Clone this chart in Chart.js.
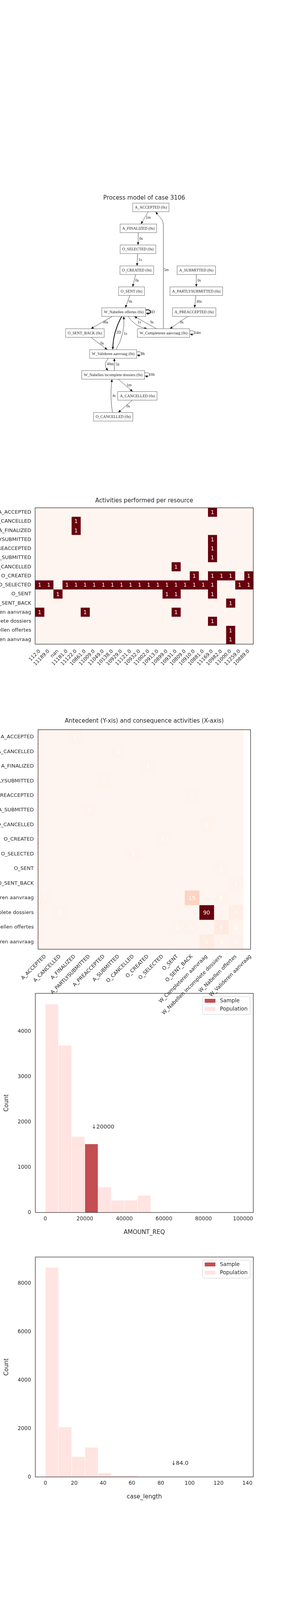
<!DOCTYPE html>
<html>
<head>
<meta charset="utf-8">
<script src="https://cdn.jsdelivr.net/npm/chart.js@4.4.1/dist/chart.umd.min.js"></script>
<style>
  html, body { margin: 0; padding: 0; background: #fff; }
  body { width: 720px; height: 4320px; position: relative; overflow: hidden; }
  canvas { position: absolute; left: 0; }
</style>
</head>
<body>
<canvas id="graph" width="720" height="620" style="top:480px"></canvas>
<canvas id="resHeat" width="720" height="480" style="top:1260px"></canvas>
<canvas id="amountHist" width="720" height="650" style="top:2530px"></canvas>
<canvas id="transHeat" width="720" height="860" style="top:1820px;z-index:2"></canvas>
<canvas id="lengthHist" width="720" height="655" style="top:3205px"></canvas>
<script>
/* ---------- data ---------- */

const caseId = 3106;

const activities = [
  'A_ACCEPTED', 'A_CANCELLED', 'A_FINALIZED', 'A_PARTLYSUBMITTED', 'A_PREACCEPTED',
  'A_SUBMITTED', 'O_CANCELLED', 'O_CREATED', 'O_SELECTED', 'O_SENT', 'O_SENT_BACK',
  'W_Completeren aanvraag', 'W_Nabellen incomplete dossiers', 'W_Nabellen offertes',
  'W_Valideren aanvraag'
];

// process model: nodes with their durations, edges with transition times
const nodeNames = [
  'A_ACCEPTED', 'A_FINALIZED', 'O_SELECTED', 'O_CREATED', 'O_SENT', 'W_Nabellen offertes',
  'A_SUBMITTED', 'A_PARTLYSUBMITTED', 'A_PREACCEPTED', 'O_SENT_BACK', 'W_Completeren aanvraag',
  'W_Valideren aanvraag', 'W_Nabellen incomplete dossiers', 'A_CANCELLED', 'O_CANCELLED'
];
const nodeTimes = ['0s', '0s', '0s', '0s', '0s', '0s', '0s', '0s', '0s', '0s', '0s', '0s', '0s', '0s', '0s'];

const edgeFrom = [
  'A_ACCEPTED', 'A_FINALIZED', 'O_SELECTED', 'O_CREATED', 'O_SENT', 'W_Completeren aanvraag',
  'A_SUBMITTED', 'A_PARTLYSUBMITTED', 'A_PREACCEPTED', 'W_Nabellen offertes', 'W_Nabellen offertes',
  'W_Nabellen offertes', 'W_Valideren aanvraag', 'W_Nabellen offertes', 'W_Completeren aanvraag',
  'W_Completeren aanvraag', 'O_SENT_BACK', 'W_Valideren aanvraag', 'W_Valideren aanvraag',
  'W_Nabellen incomplete dossiers', 'W_Nabellen incomplete dossiers', 'W_Nabellen incomplete dossiers',
  'A_CANCELLED', 'O_CANCELLED'
];
const edgeTo = [
  'A_FINALIZED', 'O_SELECTED', 'O_CREATED', 'O_SENT', 'W_Nabellen offertes', 'A_ACCEPTED',
  'A_PARTLYSUBMITTED', 'A_PREACCEPTED', 'W_Completeren aanvraag', 'W_Nabellen offertes', 'O_SENT_BACK',
  'W_Valideren aanvraag', 'W_Nabellen offertes', 'W_Completeren aanvraag', 'W_Nabellen offertes',
  'W_Completeren aanvraag', 'W_Valideren aanvraag', 'W_Valideren aanvraag', 'W_Nabellen incomplete dossiers',
  'W_Valideren aanvraag', 'W_Nabellen incomplete dossiers', 'A_CANCELLED',
  'O_CANCELLED', 'W_Nabellen incomplete dossiers'
];
const edgeTimes = [
  '1m', '0s', '1s', '0s', '0s', '5m', '0s', '46s', '0s', '3D', '46s', '2D', '1s', '1s', '9s',
  '34m', '0s', '9h', '40m', '5h', '16h', '1m', '0s', '4s'
];

// activities performed per resource (rows = activities, cols = resources)
const resources = [
  '112.0', '11189.0', 'nan', '11181.0', '11122.0', '10861.0', '11009.0', '11049.0',
  '10138.0', '10929.0', '11121.0', '10932.0', '11002.0', '10913.0', '10899.0', '10931.0',
  '10809.0', '10910.0', '10881.0', '11169.0', '10982.0', '11000.0', '11259.0', '10889.0'
];
const resourceCounts = [
  [0,0,0,0,0,0,0,0,0,0,0,0,0,0,0,0,0,0,0,1,0,0,0,0],
  [0,0,0,0,1,0,0,0,0,0,0,0,0,0,0,0,0,0,0,0,0,0,0,0],
  [0,0,0,0,1,0,0,0,0,0,0,0,0,0,0,0,0,0,0,0,0,0,0,0],
  [0,0,0,0,0,0,0,0,0,0,0,0,0,0,0,0,0,0,0,1,0,0,0,0],
  [0,0,0,0,0,0,0,0,0,0,0,0,0,0,0,0,0,0,0,1,0,0,0,0],
  [0,0,0,0,0,0,0,0,0,0,0,0,0,0,0,0,0,0,0,1,0,0,0,0],
  [0,0,0,0,0,0,0,0,0,0,0,0,0,0,0,1,0,0,0,0,0,0,0,0],
  [0,0,0,0,0,0,0,0,0,0,0,0,0,0,0,0,0,1,0,1,1,1,0,1],
  [1,1,0,1,1,1,1,1,1,1,1,1,1,1,1,1,1,1,1,1,0,0,1,1],
  [0,0,1,0,0,0,0,0,0,0,0,0,0,0,1,1,0,0,0,1,0,0,0,0],
  [0,0,0,0,0,0,0,0,0,0,0,0,0,0,0,0,0,0,0,0,0,1,0,0],
  [1,0,0,0,0,1,0,0,0,0,0,0,0,0,0,1,0,0,0,0,0,0,0,0],
  [0,0,0,0,0,0,0,0,0,0,0,0,0,0,0,0,0,0,0,1,0,0,0,0],
  [0,0,0,0,0,0,0,0,0,0,0,0,0,0,0,0,0,0,0,0,0,1,0,0],
  [0,0,0,0,0,0,0,0,0,0,0,0,0,0,0,0,0,0,0,0,0,1,0,0]
];

// antecedent (rows) -> consequence (cols) counts
const transitionCounts = [
  [0,0,1,0,0,0,0,0,0,0,0,0,0,0],
  [0,0,0,0,0,1,0,0,0,0,0,0,0,0],
  [0,0,0,0,0,0,0,1,0,0,0,0,0,0],
  [0,0,0,0,1,0,0,0,0,0,0,0,0,0],
  [0,0,0,0,0,0,0,0,0,0,1,0,0,0],
  [0,0,0,1,0,0,0,0,0,0,0,0,0,0],
  [0,0,0,0,0,0,0,0,0,0,0,1,0,0],
  [0,0,0,0,0,0,0,0,1,0,0,0,0,0],
  [0,0,0,0,0,0,1,0,0,0,0,0,0,0],
  [0,0,0,0,0,0,0,0,0,0,0,0,1,0],
  [0,0,0,0,0,0,0,0,0,0,0,0,0,1],
  [1,0,0,0,0,0,0,0,0,0,15,0,1,0],
  [0,1,0,0,0,0,0,0,0,0,0,90,0,4],
  [0,0,0,0,0,0,0,0,0,1,1,0,6,1],
  [0,0,0,0,0,0,0,0,0,0,0,5,1,2]
];

// AMOUNT_REQ histogram
const amountEdges = [0, 6667, 13333, 20000, 26667, 33333, 40000, 46667, 53333,
  60000, 66667, 73333, 80000, 86667, 93333, 100000];
const amountPopulation = [4603, 3690, 1672, 1510, 561, 267, 267, 373, 0, 14, 4, 0, 0, 0, 0];
const amountSample = [0, 0, 0, 1510, 0, 0, 0, 0, 0, 0, 0, 0, 0, 0, 0];
const amountValue = 20000;
const amountTicks = [0, 20000, 40000, 60000, 80000, 100000];
const amountCountTicks = [0, 1000, 2000, 3000, 4000];

// case_length histogram
const lengthEdges = [0, 9.14, 18.28, 27.42, 36.56, 45.7, 54.84, 63.98, 73.12, 82.26,
  91.4, 100.54, 109.68, 118.82, 127.96, 137.1];
const lengthPopulation = [8652, 2057, 831, 1214, 160, 38, 51, 0, 0, 0, 0, 0, 0, 0, 0];
const lengthSample = [0, 0, 0, 0, 0, 0, 0, 0, 0, 0, 0, 0, 0, 0, 0];
const lengthValue = 84.0;
const lengthTicks = [0, 20, 40, 60, 80, 100, 120, 140];
const lengthCountTicks = [0, 2000, 4000, 6000, 8000];

/* ---------- graph layout (graph units, not data) ---------- */
const layoutCol = [386.5, 354.5, 353.5, 350.5, 337, 317, 503, 503, 497.5, 217.5, 419, 290, 290, 352, 290];
const layoutRank = [0, 1, 2, 3, 4, 5, 3, 4, 5, 6, 6, 7, 8, 9, 10];
// per-edge routing: start/end offsets from node centre, bend, weight, label shift
const edgeRoute = [
  {}, {}, {}, {}, {},
  { kind: 'elbow', sx: -0.5, ex: 12.5 },
  {}, {}, {},
  { bold: true },
  { sx: -29, ex: 15.5 },
  { sx: -5, ex: -1, bend: 11, bold: true },
  { sx: 7, ex: 0, bend: 14 },
  { sx: 11, ex: -42, bend: 12, dy: -5 },
  { sx: -18, ex: 27, dx: 9 },
  {},
  { sx: 15.5, ex: -15 },
  {},
  { sx: -12, ex: -13, bend: 14 },
  { sx: 3, ex: 3 },
  {},
  { sx: 13, ex: -12 },
  { sx: -13, ex: 13 },
  { sx: -2, ex: -3, bend: -6 }
];

/* ---------- styling ---------- */
const INK = '#262626';
const SANS = "'DejaVu Sans', sans-serif";
const SERIF = "'Liberation Serif', 'Times New Roman', serif";
const SAMPLE_RED = '#c44e52';
const POP_PINK = '#ffe4e1';
const REDS = [[255,245,240],[254,224,210],[252,187,161],[252,146,114],[251,106,74],
  [239,59,44],[203,24,29],[165,15,21],[103,0,13]];

Chart.defaults.font.family = SANS;
Chart.defaults.color = INK;
Chart.defaults.animation = false;
Chart.defaults.events = [];
Chart.defaults.plugins.legend.display = false;
Chart.defaults.plugins.tooltip.enabled = false;

function reds(t) {
  t = Math.max(0, Math.min(1, t));
  const p = t * 8, i = Math.min(7, Math.floor(p)), f = p - i;
  const a = REDS[i], b = REDS[i + 1];
  const c = a.map((v, k) => Math.round(v + (b[k] - v) * f));
  return 'rgb(' + c.join(',') + ')';
}

const frameBorder = {
  id: 'frameBorder',
  afterDraw(chart) {
    const { ctx, chartArea: a } = chart;
    ctx.save();
    ctx.strokeStyle = INK;
    ctx.lineWidth = 1.25;
    ctx.strokeRect(a.left, a.top, a.right - a.left, a.bottom - a.top);
    ctx.restore();
  }
};

const cellText = {
  id: 'cellText',
  afterDatasetsDraw(chart, args, opts) {
    const m = opts.matrix;
    if (!m) return;
    const { ctx } = chart, xs = chart.scales.x, ys = chart.scales.y;
    ctx.save();
    ctx.font = opts.size + 'px ' + SANS;
    ctx.fillStyle = '#ffffff';
    ctx.textAlign = 'center';
    ctx.textBaseline = 'middle';
    m.forEach((row, i) => row.forEach((v, j) => {
      if (v) ctx.fillText(String(v), xs.getPixelForValue(j), ys.getPixelForValue(i) + 1);
    }));
    ctx.restore();
  }
};

function zeroPadding(s) {
  s.paddingTop = 0; s.paddingBottom = 0; s.paddingLeft = 0; s.paddingRight = 0;
}

function heatmap(id, rowLabels, colLabels, matrix, o) {
  const vmax = Math.max(...matrix.flat());
  const datasets = matrix[0].map((_, j) => ({
    data: matrix.map(() => [j - 0.5, j + 0.5]),
    backgroundColor: matrix.map(row => reds(row[j] / vmax)),
    borderWidth: 0,
    grouped: false,
    barPercentage: 1,
    categoryPercentage: 1
  }));
  return new Chart(document.getElementById(id), {
    type: 'bar',
    data: { labels: rowLabels, datasets },
    options: {
      indexAxis: 'y',
      responsive: false,
      layout: { padding: { left: 0, right: o.right, top: 0, bottom: 0 } },
      plugins: {
        title: {
          display: true, text: o.title, fullSize: false, color: INK,
          font: { family: SANS, size: 15, weight: 'normal' },
          padding: { top: o.titleTop, bottom: o.titleBottom }
        },
        cellText: { matrix, size: o.cellFont }
      },
      scales: {
        x: {
          type: 'linear', min: -0.5, max: o.xMax, bounds: 'data',
          afterBuildTicks: s => { s.ticks = colLabels.map((_, i) => ({ value: i })); },
          afterFit: s => { s.height = o.xAxisH; zeroPadding(s); },
          grid: { display: false, drawTicks: false },
          border: { display: false },
          ticks: {
            autoSkip: false, minRotation: 45, maxRotation: 45, padding: o.xPad,
            font: { size: o.xFont }, color: INK,
            callback: v => colLabels[v]
          }
        },
        y: {
          afterFit: s => { s.width = o.yAxisW; zeroPadding(s); },
          grid: { display: false, drawTicks: false },
          border: { display: false },
          ticks: { autoSkip: false, padding: o.yPad, font: { size: o.yFont }, color: INK }
        }
      }
    },
    plugins: [cellText, frameBorder]
  });
}

const boxLegend = {
  id: 'boxLegend',
  afterDraw(chart) {
    const { ctx, chartArea: a } = chart;
    const items = chart.data.datasets;
    const w = 122, h = 46;
    const left = a.right - 8 - w, top = a.top + 8;
    ctx.save();
    ctx.beginPath();
    ctx.roundRect(left, top, w, h, 3);
    ctx.fillStyle = 'rgba(255,255,255,0.8)';
    ctx.fill();
    ctx.strokeStyle = '#cccccc';
    ctx.lineWidth = 1;
    ctx.stroke();
    ctx.font = '13.5px ' + SANS;
    ctx.textBaseline = 'middle';
    items.forEach((d, i) => {
      const cy = top + 11 + i * 21;
      ctx.fillStyle = d.backgroundColor;
      ctx.fillRect(left + 5.5, cy - 5, 27.5, 10);
      ctx.fillStyle = INK;
      ctx.fillText(d.label, left + 44.5, cy);
    });
    ctx.restore();
  }
};

const sampleNote = {
  id: 'sampleNote',
  afterDatasetsDraw(chart, args, opts) {
    const { ctx } = chart, xs = chart.scales.x, ys = chart.scales.y;
    ctx.save();
    ctx.font = '14.5px ' + SANS;
    ctx.fillStyle = INK;
    ctx.textBaseline = 'middle';
    ctx.fillText(opts.text, xs.getPixelForValue(opts.x), ys.getPixelForValue(opts.y));
    ctx.restore();
  }
};

function histogram(id, edges, population, sample, xLabel, o) {
  const centers = population.map((_, i) => (edges[i] + edges[i + 1]) / 2);
  return new Chart(document.getElementById(id), {
    type: 'bar',
    data: {
      datasets: [
        { label: 'Sample', data: sample.map((v, i) => ({ x: centers[i], y: v })),
          backgroundColor: SAMPLE_RED, order: 0 },
        { label: 'Population', data: population.map((v, i) => ({ x: centers[i], y: v })),
          backgroundColor: POP_PINK, order: 1 }
      ]
    },
    options: {
      responsive: false,
      layout: { padding: { left: 0, right: 71, top: 13, bottom: 0 } },
      datasets: { bar: { grouped: false, barPercentage: 0.97, categoryPercentage: 1, borderWidth: 0 } },
      plugins: { sampleNote: o.note },
      scales: {
        x: {
          type: 'linear', min: o.xMin, max: o.xMax, bounds: 'data', offset: false,
          afterBuildTicks: s => { s.ticks = o.xTicks.map(v => ({ value: v })); },
          afterFit: s => { s.height = o.xAxisH; zeroPadding(s); },
          grid: { display: false, drawTicks: false },
          border: { display: false },
          ticks: { maxRotation: 0, padding: 8, font: { size: 13.5 }, color: INK, callback: v => String(v) },
          title: { display: true, text: xLabel, color: INK, font: { size: 15 },
            padding: { top: 0, bottom: o.xTitleBottom } }
        },
        y: {
          min: 0, max: o.yMax, bounds: 'data',
          afterBuildTicks: s => { s.ticks = o.yTicks.map(v => ({ value: v })); },
          afterFit: s => { s.width = 90.5; zeroPadding(s); },
          grid: { display: false, drawTicks: false },
          border: { display: false },
          ticks: { padding: 11, font: { size: 13.5 }, color: INK, callback: v => String(v) },
          title: { display: true, text: 'Count', color: INK, font: { size: 15 },
            padding: { top: 8, bottom: 0 } }
        }
      }
    },
    plugins: [sampleNote, boxLegend, frameBorder]
  });
}

/* ---------- process model ---------- */
const NODE_FONT = '10px ' + SERIF;
const NODE_H = 22, NODE_PAD = 5.5;

function arrowHead(ctx, x, y, fromX, fromY) {
  const ang = Math.atan2(y - fromY, x - fromX), L = 7, W = 3;
  ctx.beginPath();
  ctx.moveTo(x, y);
  ctx.lineTo(x - L * Math.cos(ang) + W * Math.sin(ang), y - L * Math.sin(ang) - W * Math.cos(ang));
  ctx.lineTo(x - L * Math.cos(ang) - W * Math.sin(ang), y - L * Math.sin(ang) + W * Math.cos(ang));
  ctx.closePath();
  ctx.fill();
}

const processGraph = {
  id: 'processGraph',
  afterDatasetsDraw(chart) {
    const { ctx } = chart, xs = chart.scales.x, ys = chart.scales.y;
    ctx.save();
    ctx.font = NODE_FONT;
    const boxes = nodeNames.map((name, i) => {
      const text = name + ' (' + nodeTimes[i] + ')';
      const w = ctx.measureText(text).width + 2 * NODE_PAD;
      const cx = xs.getPixelForValue(layoutCol[i]), cy = ys.getPixelForValue(layoutRank[i]);
      return { text, cx, cy, w, l: cx - w / 2, r: cx + w / 2, t: cy - NODE_H / 2, b: cy + NODE_H / 2 };
    });

    ctx.textBaseline = 'middle';
    ctx.textAlign = 'left';
    edgeFrom.forEach((fromName, k) => {
      const s = boxes[nodeNames.indexOf(fromName)];
      const t = boxes[nodeNames.indexOf(edgeTo[k])];
      const st = edgeRoute[k] || {};
      ctx.strokeStyle = st.bold ? '#111' : '#444';
      ctx.fillStyle = '#111';
      ctx.lineWidth = st.bold ? 2 : 1;
      let lx, ly;
      if (s === t) {
        const R = s.r, cy = s.cy;
        ctx.beginPath();
        ctx.moveTo(R, cy - 5);
        ctx.bezierCurveTo(R + 14, cy - 10, R + 16, cy + 6, R + 5, cy + 3.5);
        ctx.stroke();
        arrowHead(ctx, R + 0.5, cy + 2.5, R + 16, cy + 6);
        lx = R + 11; ly = cy;
      } else if (st.kind === 'elbow') {
        const x0 = s.cx + st.sx, y0 = s.t, x1 = t.cx + st.ex, y1 = t.b;
        ctx.beginPath();
        ctx.moveTo(x0, y0);
        ctx.lineTo(x0, y1 + 35);
        ctx.bezierCurveTo(x0, y1 + 18, x1 + 7, y1 + 11, x1 + 2, y1 + 4);
        ctx.stroke();
        arrowHead(ctx, x1, y1, x1 + 7, y1 + 11);
        lx = x0 + 1; ly = (y0 + y1) / 2;
      } else {
        const down = t.cy > s.cy;
        const y0 = down ? s.b : s.t, y1 = down ? t.t : t.b;
        let x0, x1;
        if (st.sx == null) {
          const slope = (t.cx - s.cx) / (t.cy - s.cy);
          x0 = s.cx + slope * (y0 - s.cy);
          x1 = t.cx + slope * (y1 - t.cy);
        } else {
          x0 = s.cx + st.sx; x1 = t.cx + st.ex;
        }
        const dx = x1 - x0, dy = y1 - y0, len = Math.hypot(dx, dy);
        const nx = -dy / len, ny = dx / len, bend = st.bend || 0;
        const qx = (x0 + x1) / 2 + nx * bend, qy = (y0 + y1) / 2 + ny * bend;
        const ux = (x1 - qx), uy = (y1 - qy), ul = Math.hypot(ux, uy);
        ctx.beginPath();
        ctx.moveTo(x0, y0);
        ctx.quadraticCurveTo(qx, qy, x1 - ux / ul * 4, y1 - uy / ul * 4);
        ctx.stroke();
        arrowHead(ctx, x1, y1, qx, qy);
        lx = 0.25 * x0 + 0.5 * qx + 0.25 * x1 + 3;
        ly = 0.25 * y0 + 0.5 * qy + 0.25 * y1;
      }
      ctx.fillStyle = '#1a1a1a';
      ctx.fillText(edgeTimes[k], lx + (st.dx || 0), ly + (st.dy || 0));
    });

    boxes.forEach(b => {
      ctx.fillStyle = '#ffffff';
      ctx.fillRect(b.l, b.t, b.w, NODE_H);
      ctx.strokeStyle = '#666666';
      ctx.lineWidth = 1;
      ctx.strokeRect(b.l, b.t, b.w, NODE_H);
      ctx.fillStyle = '#1a1a1a';
      ctx.textAlign = 'center';
      ctx.fillText(b.text, b.cx, b.cy + 0.5);
    });
    ctx.restore();
  }
};

new Chart(document.getElementById('graph'), {
  type: 'scatter',
  data: {
    datasets: [{
      data: nodeNames.map((_, i) => ({ x: layoutCol[i], y: layoutRank[i] })),
      pointRadius: 0
    }]
  },
  options: {
    responsive: false,
    layout: { padding: { left: 90, right: 71, top: 0, bottom: 0 }, autoPadding: false },
    plugins: {
      title: {
        display: true, text: 'Process model of case ' + caseId, fullSize: false, color: INK,
        font: { family: SANS, size: 15, weight: 'normal' },
        padding: { top: 18, bottom: 4 }
      }
    },
    scales: {
      x: { type: 'linear', min: 90, max: 649, display: false },
      y: { type: 'linear', min: -0.205, max: 10.616, reverse: true, display: false }
    }
  },
  plugins: [processGraph]
});

/* ---------- heatmaps ---------- */
heatmap('resHeat', activities, resources, resourceCounts, {
  title: 'Activities performed per resource', titleTop: 13, titleBottom: 9,
  right: 71, yAxisW: 90, yPad: 10, xAxisH: 91, xMax: resources.length - 0.5,
  xFont: 12.5, yFont: 13, xPad: 11, cellFont: 13.5
});

heatmap('transHeat', activities, activities, transitionCounts, {
  title: 'Antecedent (Y-xis) and consequence activities (X-axis)', titleTop: 17, titleBottom: 13,
  right: 78, yAxisW: 97.5, yPad: 11, xAxisH: 250, xMax: 14.0,
  xFont: 13, yFont: 13, xPad: 11, cellFont: 14
});

/* ---------- histograms ---------- */
histogram('amountHist', amountEdges, amountPopulation, amountSample, 'AMOUNT_REQ', {
  xMin: -5050, xMax: 105200, yMax: 4844, xTicks: amountTicks, yTicks: amountCountTicks,
  xAxisH: 76, xTitleBottom: 16,
  note: { text: '\u2193' + amountValue, x: 23400, y: 1886 }
});

histogram('lengthHist', lengthEdges, lengthPopulation, lengthSample, 'case_length', {
  xMin: -6.95, xMax: 144.1, yMax: 9086, xTicks: lengthTicks, yTicks: lengthCountTicks,
  xAxisH: 79, xTitleBottom: 19,
  note: { text: '\u2193' + lengthValue.toFixed(1), x: 87.2, y: 553 }
});
</script>
</body>
</html>
